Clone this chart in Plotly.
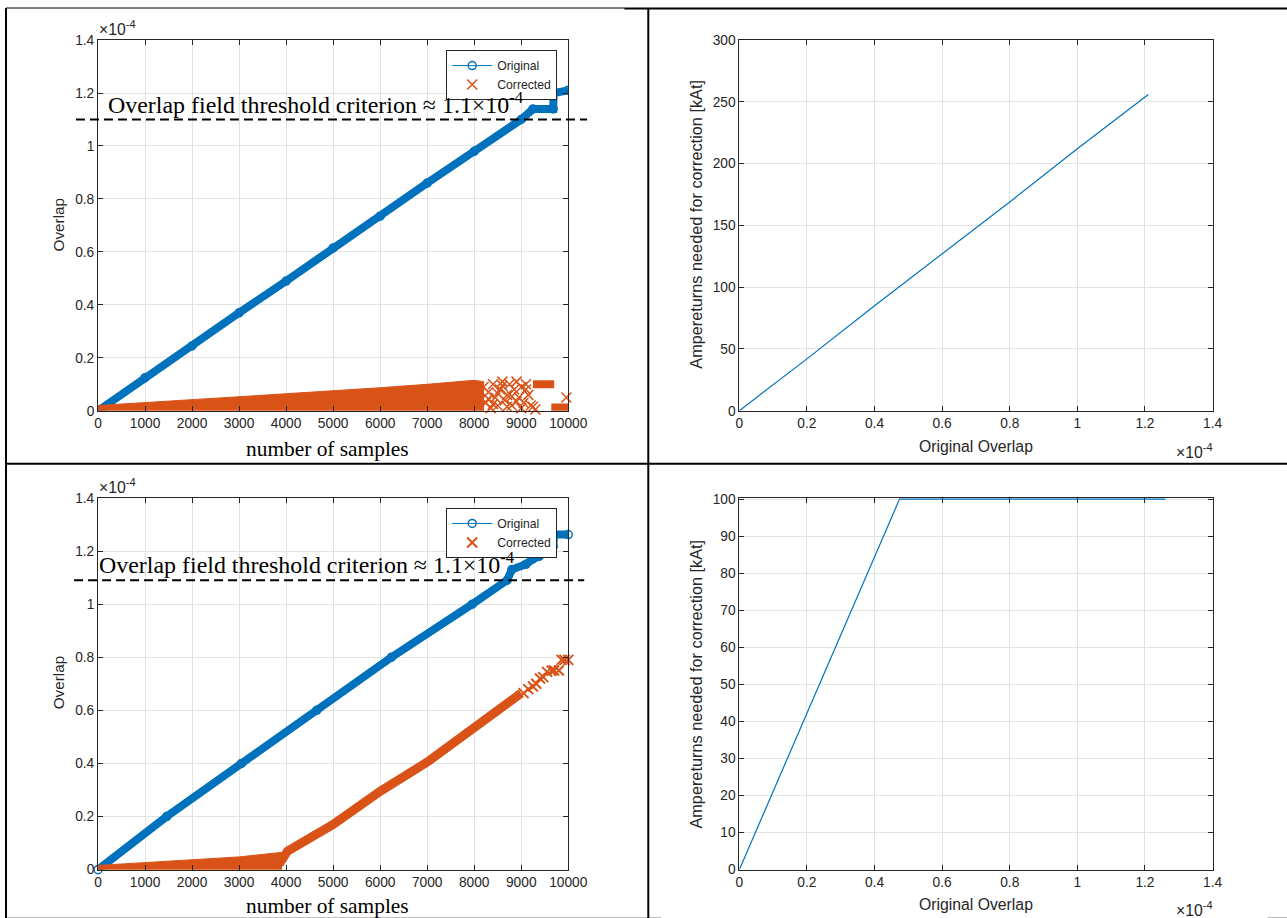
import plotly.graph_objects as go

# ---------------- data (overlap values in units of 1e-4) ----------------
# Top-left panel
orig_top_x = [0, 1000, 2000, 3000, 4000, 5000, 6000, 7000, 8000, 9000, 9250, 9680, 9690, 10000]
orig_top_y = [0, 0.125, 0.245, 0.37, 0.49, 0.615, 0.735, 0.86, 0.98, 1.1, 1.14, 1.14, 1.20, 1.21]

corr_top_env_x = [0, 1000, 2000, 3000, 4000, 5000, 6000, 7000, 8000, 8200]
corr_top_env_hi = [0.02, 0.03, 0.042, 0.053, 0.064, 0.075, 0.087, 0.1, 0.115, 0.11]
corr_top_env_lo = [-0.01, -0.01, -0.01, -0.01, -0.01, -0.01, -0.01, -0.01, -0.01, -0.01]

corr_top_sc_x = [8200, 8250, 8300, 8350, 8400, 8450, 8500, 8550, 8600, 8650, 8700, 8750, 8800, 8850,
                 8900, 8950, 9000, 9050, 9100, 9150, 9200, 8300, 8500, 8700, 8900, 9100, 8400, 8600,
                 8800, 9000, 9250, 9300]
corr_top_sc_y = [0.09, 0.03, 0.07, 0.01, 0.10, 0.05, 0.02, 0.08, 0.11, 0.04, 0.06, 0.10, 0.02, 0.08,
                 0.11, 0.05, 0.09, 0.03, 0.10, 0.06, 0.02, 0.045, 0.065, 0.015, 0.035, 0.08, 0.025, 0.095,
                 0.055, 0.01, 0.015, 0.005]
corr_top_step_x = [9250, 9700, None, 9640, 10000]
corr_top_step_y = [0.10, 0.10, None, 0.012, 0.012]
corr_top_pt_x = [9960]
corr_top_pt_y = [0.05]

# Bottom-left panel
orig_bot_x = [0, 1460, 3050, 4650, 6240, 7960, 8700, 8800, 9100, 9250, 9380, 9520, 9680, 9700, 10000]
orig_bot_y = [0, 0.2, 0.4, 0.6, 0.8, 1.0, 1.09, 1.13, 1.15, 1.17, 1.18, 1.2, 1.217, 1.262, 1.262]

corr_bot_env_x = [0, 1000, 2000, 3000, 3900]
corr_bot_env_hi = [0.016, 0.026, 0.036, 0.048, 0.065]
corr_bot_env_lo = [-0.01, -0.01, -0.01, -0.01, -0.01]

corr_bot_band_x = [3850, 4030, 5000, 6000, 7000, 8000, 9000]
corr_bot_band_y = [0.02, 0.07, 0.17, 0.295, 0.405, 0.535, 0.665]

corr_bot_step_x = [9050, 9150, 9250, 9320, 9400, 9470, 9550, 9650, 9700, 9800, 9860, 9920, 10000]
corr_bot_step_y = [0.665, 0.68, 0.69, 0.70, 0.72, 0.725, 0.745, 0.75, 0.75, 0.75, 0.79, 0.79, 0.79]

# Right panels
amp_top_x = [0, 0.2, 0.4, 0.6, 0.8, 1.0, 1.21]
amp_top_y = [0, 42, 85, 127, 169, 212, 256]
amp_bot_x = [0, 0.2, 0.4, 0.474, 1.26]
amp_bot_y = [0, 42, 84.5, 100, 100]

threshold_top = 1.1
threshold_bot = 1.09

# ---------------- styling ----------------
# The photographed page appears scaled by S and shifted by (SX, SY); body margin is removed below.
S, SX, SY, MARGIN = 0.982, 3.0, 7.0, 0.0
W, H = 1310, 930
BLUE = "#0072BD"
ORANGE = "#D95319"
AX = "#262626"
SANS = "Liberation Sans, Arial, sans-serif"
SERIF = "Liberation Serif, Times New Roman, serif"


def px(x):
    return ((x - SX) / S - MARGIN) / W


def py(y):
    return 1 - ((y - SY) / S - MARGIN) / H


def fs(size):
    return round(size / S, 2)


fig = go.Figure()

# ---- top-left ----
fig.add_trace(go.Scatter(x=orig_top_x, y=orig_top_y, mode="lines", line=dict(color=BLUE, width=8),
                         showlegend=False, hoverinfo="skip", xaxis="x", yaxis="y"))
fig.add_trace(go.Scatter(x=orig_top_x, y=orig_top_y, mode="lines+markers", name="Original",
                         line=dict(color=BLUE, width=1),
                         marker=dict(symbol="circle-open", size=8, color=BLUE, line=dict(width=1.5)),
                         legend="legend", xaxis="x", yaxis="y"))
fig.add_trace(go.Scatter(x=corr_top_env_x + corr_top_env_x[::-1],
                         y=corr_top_env_hi + corr_top_env_lo[::-1],
                         mode="lines", fill="toself", fillcolor=ORANGE, line=dict(color=ORANGE, width=1),
                         showlegend=False, hoverinfo="skip", xaxis="x", yaxis="y"))
fig.add_trace(go.Scatter(x=corr_top_step_x, y=corr_top_step_y, mode="lines",
                         line=dict(color=ORANGE, width=8), showlegend=False, hoverinfo="skip",
                         xaxis="x", yaxis="y"))
fig.add_trace(go.Scatter(x=corr_top_sc_x + corr_top_pt_x, y=corr_top_sc_y + corr_top_pt_y,
                         mode="markers", name="Corrected",
                         marker=dict(symbol="x-thin-open", size=10, color=ORANGE, line=dict(width=1.5, color=ORANGE)),
                         legend="legend", xaxis="x", yaxis="y", cliponaxis=False))

# ---- top-right ----
fig.add_trace(go.Scatter(x=amp_top_x, y=amp_top_y, mode="lines", line=dict(color=BLUE, width=1.2),
                         showlegend=False, xaxis="x2", yaxis="y2"))

# ---- bottom-left ----
fig.add_trace(go.Scatter(x=orig_bot_x, y=orig_bot_y, mode="lines", line=dict(color=BLUE, width=8),
                         showlegend=False, hoverinfo="skip", xaxis="x3", yaxis="y3"))
fig.add_trace(go.Scatter(x=orig_bot_x, y=orig_bot_y, mode="lines+markers", name="Original",
                         line=dict(color=BLUE, width=1),
                         marker=dict(symbol="circle-open", size=8, color=BLUE, line=dict(width=1.5)),
                         legend="legend2", xaxis="x3", yaxis="y3", cliponaxis=False))
fig.add_trace(go.Scatter(x=corr_bot_env_x + corr_bot_env_x[::-1],
                         y=corr_bot_env_hi + corr_bot_env_lo[::-1],
                         mode="lines", fill="toself", fillcolor=ORANGE, line=dict(color=ORANGE, width=1),
                         showlegend=False, hoverinfo="skip", xaxis="x3", yaxis="y3"))
fig.add_trace(go.Scatter(x=corr_bot_band_x, y=corr_bot_band_y, mode="lines",
                         line=dict(color=ORANGE, width=9), showlegend=False, hoverinfo="skip",
                         xaxis="x3", yaxis="y3"))
fig.add_trace(go.Scatter(x=corr_bot_step_x, y=corr_bot_step_y, mode="markers", name="Corrected",
                         marker=dict(symbol="x-thin-open", size=10, color=ORANGE, line=dict(width=2, color=ORANGE)),
                         legend="legend2", xaxis="x3", yaxis="y3", cliponaxis=False))

# ---- bottom-right ----
fig.add_trace(go.Scatter(x=amp_bot_x, y=amp_bot_y, mode="lines", line=dict(color=BLUE, width=1.2),
                         showlegend=False, xaxis="x4", yaxis="y4"))


def axis(domain, rng, dtick, anchor, fmt=None):
    d = dict(domain=domain, range=rng, dtick=dtick, anchor=anchor, showline=True, linecolor=AX,
             linewidth=1, mirror="ticks", ticks="inside", ticklen=5, tickcolor=AX, showgrid=True,
             gridcolor="#e3e3e3", gridwidth=1, zeroline=False, exponentformat="none",
             tickfont=dict(family=SANS, size=fs(13.5), color=AX))
    if fmt:
        d["tickformat"] = fmt
    return d


XL = [px(97), px(567)]
XR = [px(738), px(1211)]
YT = [py(410), py(40)]
YB = [py(868), py(497)]

legend_style = dict(xanchor="left", yanchor="top", bordercolor=AX, borderwidth=1, bgcolor="white",
                    font=dict(family=SANS, size=fs(12), color=AX), tracegroupgap=0, itemwidth=40)

annotations = [
    # exponent labels
    dict(text="×10<sup>-4</sup>", x=px(96), y=py(40), xanchor="left", yanchor="bottom"),
    dict(text="×10<sup>-4</sup>", x=px(96), y=py(497), xanchor="left", yanchor="bottom"),
    dict(text="×10<sup>-4</sup>", x=px(1213), y=py(438), xanchor="right", yanchor="top"),
    dict(text="×10<sup>-4</sup>", x=px(1213), y=py(895), xanchor="right", yanchor="top"),
    # axis titles
    dict(text="Overlap", x=px(57), y=py(225), textangle=-90, font=dict(family=SANS, size=fs(15), color=AX)),
    dict(text="Overlap", x=px(57), y=py(682), textangle=-90, font=dict(family=SANS, size=fs(15), color=AX)),
    dict(text="number of samples", x=px(326), y=py(448), font=dict(family=SERIF, size=fs(21), color="black")),
    dict(text="number of samples", x=px(326), y=py(904), font=dict(family=SERIF, size=fs(21), color="black")),
    dict(text="Original Overlap", x=px(975), y=py(446), font=dict(family=SANS, size=fs(15.5), color=AX)),
    dict(text="Original Overlap", x=px(975), y=py(903), font=dict(family=SANS, size=fs(15.5), color=AX)),
    dict(text="Ampereturns needed for correction [kAt]", x=px(695), y=py(224), textangle=-90,
         font=dict(family=SANS, size=fs(16), color=AX)),
    dict(text="Ampereturns needed for correction [kAt]", x=px(695), y=py(683), textangle=-90,
         font=dict(family=SANS, size=fs(16), color=AX)),
    # threshold labels
    dict(text="Overlap field threshold criterion ≈ 1.1×10<sup>-4</sup>", x=px(105), y=py(103),
         xanchor="left", yanchor="middle", font=dict(family=SERIF, size=fs(23.5), color="black")),
    dict(text="Overlap field threshold criterion ≈ 1.1×10<sup>-4</sup>", x=px(96), y=py(562),
         xanchor="left", yanchor="middle", font=dict(family=SERIF, size=fs(23.5), color="black")),
]
for a in annotations:
    a.setdefault("font", dict(family=SANS, size=fs(15.5), color=AX))
    a.setdefault("xanchor", "center")
    a.setdefault("yanchor", "middle")
    a.update(xref="paper", yref="paper", showarrow=False)

line_black = dict(color="black", width=2)
shapes = [
    # threshold dashed lines
    dict(type="line", xref="x domain", yref="y", x0=-0.047, x1=1.04, y0=threshold_top, y1=threshold_top,
         line=dict(color="black", width=2, dash="9px,5px")),
    dict(type="line", xref="x3 domain", yref="y3", x0=-0.051, x1=1.034, y0=threshold_bot, y1=threshold_bot,
         line=dict(color="black", width=2, dash="9px,5px")),
    # table borders
    dict(type="line", xref="paper", yref="paper", x0=px(5), x1=px(623), y0=py(8), y1=py(8),
         line=dict(color="black", width=1)),
    dict(type="line", xref="paper", yref="paper", x0=px(623), x1=px(1287), y0=py(8.5), y1=py(8.5), line=line_black),
    dict(type="line", xref="paper", yref="paper", x0=px(5), x1=px(5), y0=py(8), y1=py(918), line=line_black),
    dict(type="line", xref="paper", yref="paper", x0=px(647), x1=px(647), y0=py(8), y1=py(918), line=line_black),
    dict(type="line", xref="paper", yref="paper", x0=px(5), x1=px(1287), y0=py(463), y1=py(463), line=line_black),
    dict(type="line", xref="paper", yref="paper", x0=px(5), x1=px(660), y0=py(917), y1=py(917), line=line_black),
    dict(type="line", xref="paper", yref="paper", x0=px(1266), x1=px(1287), y0=py(917), y1=py(917), line=line_black),
]

fig.update_layout(
    width=W, height=H, margin=dict(l=0, r=0, t=0, b=0),
    paper_bgcolor="white", plot_bgcolor="white",
    xaxis=axis(XL, [0, 10000], 1000, "y", "d"),
    yaxis=axis(YT, [0, 1.4], 0.2, "x"),
    xaxis2=axis(XR, [0, 1.4], 0.2, "y2"),
    yaxis2=axis(YT, [0, 300], 50, "x2"),
    xaxis3=axis(XL, [0, 10000], 1000, "y3", "d"),
    yaxis3=axis(YB, [0, 1.4], 0.2, "x3"),
    xaxis4=axis(XR, [0, 1.4], 0.2, "y4"),
    yaxis4=axis(YB, [0, 100.3], 10, "x4"),
    legend=dict(x=px(445), y=py(50), **legend_style),
    legend2=dict(x=px(445), y=py(507), **legend_style),
    annotations=annotations,
    shapes=shapes,
)

fig.write_html("out.html", config={"displayModeBar": False},
               post_script="document.body.style.margin='0';")
